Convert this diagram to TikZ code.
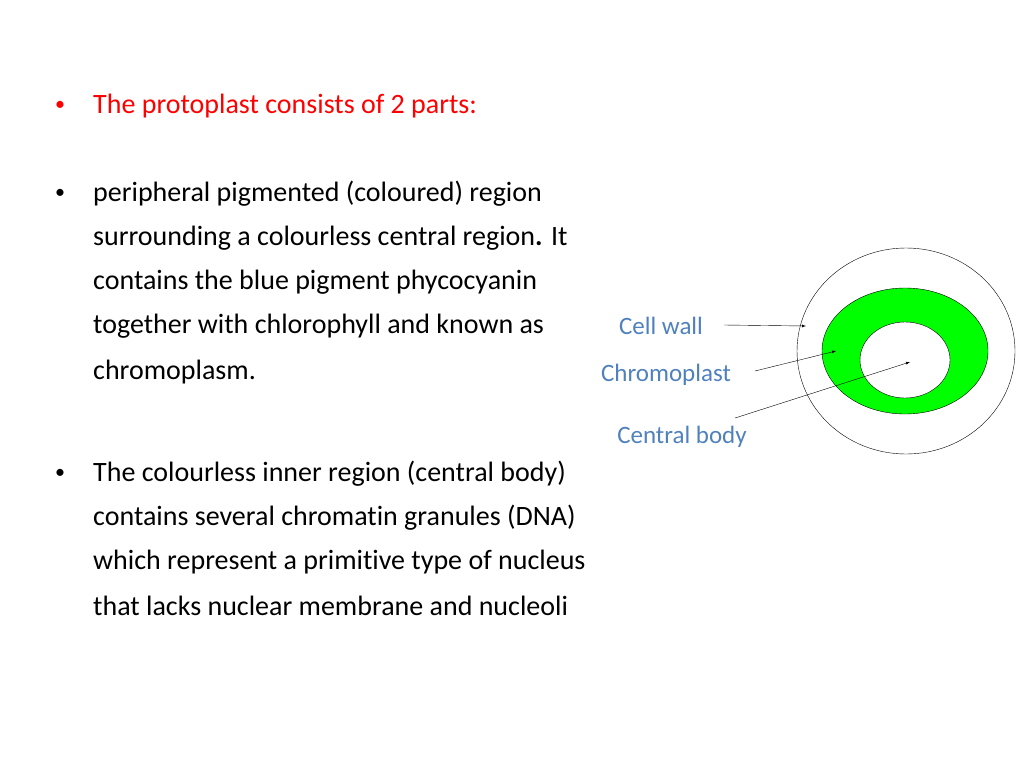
\documentclass[tikz,border=0pt]{standalone}
\usepackage{fontspec}
\setmainfont{Carlito}[Ligatures=NoCommon]
\definecolor{lblue}{RGB}{79,129,189}
\definecolor{cgreen}{RGB}{0,255,0}
\begin{document}
\begin{tikzpicture}[x=1pt,y=-1pt,
  txt/.style={anchor=west,inner sep=0pt,font=\fontsize{28}{32}\selectfont},
  bul/.style={anchor=west,inner sep=0pt,font=\fontsize{20}{24}\selectfont},
  lbl/.style={inner sep=1pt,text=lblue,font=\fontsize{25}{30}\selectfont},
  arr/.style={-latex,thin}]
\useasboundingbox (0,0) rectangle (1024,768);
\node[bul,text=red] (b1) at (55,106) {•};
\node[txt,text=red] (t1) at (93,106) {The protoplast consists of 2 parts:};
\node[bul] (b2) at (55,194) {•};
\node[txt] (t2) at (93,194) {peripheral pigmented (coloured) region};
\node[txt] (t3) at (93,238) {surrounding a colourless central region\textbf{.} It};
\node[txt] (t4) at (93,282) {contains the blue pigment phycocyanin};
\node[txt] (t5) at (93,326) {together with chlorophyll and known as};
\node[txt] (t6) at (93,372) {chromoplasm.};
\node[bul] (b3) at (55,474) {•};
\node[txt] (t7) at (93,474) {The colourless inner region (central body)};
\node[txt] (t8) at (93,518) {contains several chromatin granules (DNA)};
\node[txt] (t9) at (93,562) {which represent a primitive type of nucleus};
\node[txt] (t10) at (93,606) {that lacks nuclear membrane and nucleoli};
\draw[thin] (906,351) ellipse [x radius=109,y radius=103];
\fill[cgreen,draw=black,thin] (905,351) ellipse [x radius=83,y radius=63];
\fill[white,draw=black,thin] (905,360) ellipse [x radius=45,y radius=38];
\node[lbl] (cw) at (661,326) {Cell wall};
\node[lbl] (cp) at (666,375) {Chromoplast};
\node[lbl] (cb) at (682,437) {Central body};
\coordinate (sw) at (724,325);
\coordinate (sp) at (755,371);
\coordinate (sb) at (735,418);
\coordinate (pw) at (806,326);
\coordinate (pp) at (836,351);
\coordinate (pb) at (910,362);
\draw[arr] (sw) -- (pw);
\draw[arr] (sp) -- (pp);
\draw[arr] (sb) -- (pb);
\end{tikzpicture}
\end{document}
